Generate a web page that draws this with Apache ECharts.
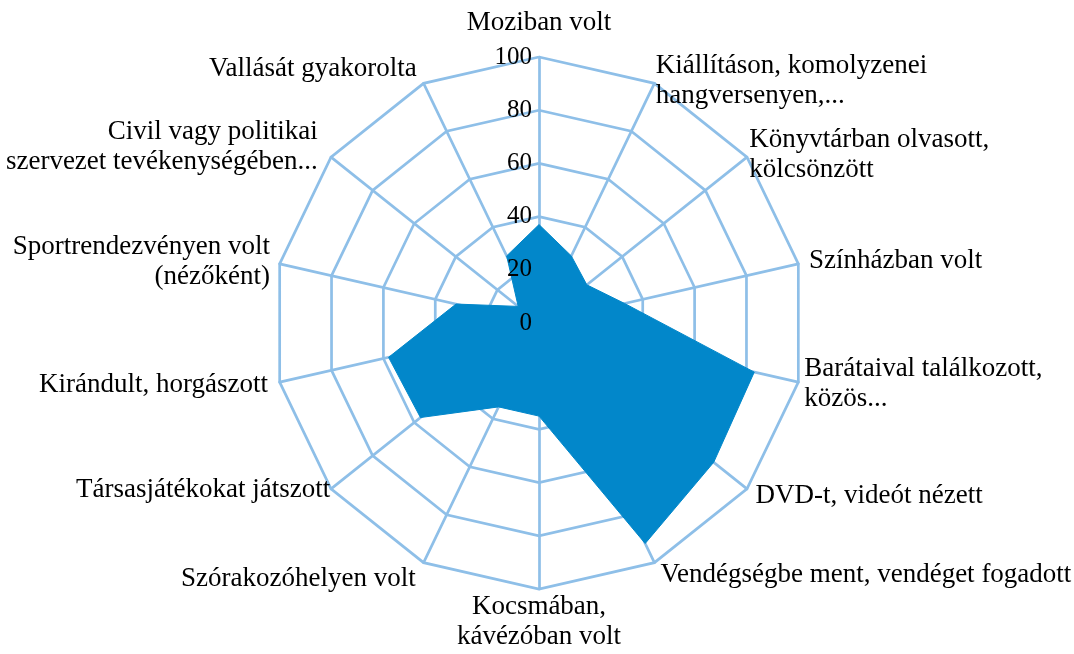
<!DOCTYPE html>
<html>
<head>
<meta charset="utf-8">
<title>Radar</title>
<script src="https://cdn.jsdelivr.net/npm/echarts@6/dist/echarts.min.js"></script>
<style>
    html, body { margin: 0; padding: 0; background: #fff; }
    #chart { width: 1074px; height: 654px; }
</style>
</head>
<body>
<div id="chart"></div>
<script>
// tevékenységek, az óramutató járásával egyező irányban, felülről
const categories = [
    'Moziban volt',
    'Kiállításon, komolyzenei\nhangversenyen,...',
    'Könyvtárban olvasott,\nkölcsönzött',
    'Színházban volt',
    'Barátaival találkozott,\nközös...',
    'DVD-t, videót nézett',
    'Vendégségbe ment, vendéget fogadott',
    'Kocsmában,\nkávézóban volt',
    'Szórakozóhelyen volt',
    'Társasjátékokat játszott',
    'Kirándult, horgászott',
    'Sportrendezvényen volt\n(nézőként)',
    'Civil vagy politikai\nszervezet tevékenységében...',
    'Vallását gyakorolta'
];
const values = [37, 28, 23, 33, 83, 84, 92, 35, 35, 57, 58, 32, 10, 28];
const axisMax = 100;
const splitCount = 5; // 0, 20, 40, 60, 80, 100

// label distance from the outer ring, per category (layout only)
const nameGaps = [19, 3, 3, 11, 6, 11, 14, 3, 18, 1, 12, 10, 17, 16];

const lineColor = '#8EBFE8';
const fillColor = '#0287CA';
const font = '"Liberation Serif", "DejaVu Serif", serif';
const center = [539, 323];
const radius = 266;

// echarts lays radar axes counter-clockwise, so keep the first and reverse the rest
const order = [0];
for (let i = categories.length - 1; i > 0; i--) order.push(i);

const indicator = order.map(i => ({
    name: categories[i],
    min: 0,
    max: axisMax,
    nameGap: nameGaps[i]
}));
// second, empty copy only carries the 0..100 tick labels on the top axis, above the fill
const labelIndicator = order.map((i, k) => ({
    name: '',
    min: 0,
    max: axisMax,
    axisLabel: { show: k === 0 }
}));

const chart = echarts.init(document.getElementById('chart'));
chart.setOption({
    backgroundColor: '#fff',
    animation: false,
    radar: [{
        center: center,
        radius: radius,
        startAngle: 90,
        shape: 'polygon',
        splitNumber: splitCount,
        indicator: indicator,
        axisName: {
            color: '#000',
            fontFamily: font,
            fontSize: 27,
            lineHeight: 30
        },
        axisLine: { lineStyle: { color: lineColor, width: 2.7 } },
        splitLine: { lineStyle: { color: lineColor, width: 2.7 } },
        splitArea: { show: false },
        axisTick: { show: false },
        axisLabel: { show: false }
    }, {
        center: center,
        radius: radius,
        startAngle: 90,
        shape: 'polygon',
        splitNumber: splitCount,
        indicator: labelIndicator,
        z: 10,
        axisName: { show: false },
        axisLine: { show: false },
        splitLine: { show: false },
        splitArea: { show: false },
        axisTick: { show: false },
        axisLabel: {
            show: false,
            color: '#000',
            fontFamily: font,
            fontSize: 25,
            margin: 7
        }
    }],
    series: [{
        type: 'radar',
        radarIndex: 0,
        symbol: 'none',
        lineStyle: { color: fillColor, width: 1 },
        areaStyle: { color: fillColor, opacity: 1 },
        data: [{ value: order.map(i => values[i]) }]
    }]
});
</script>
</body>
</html>
